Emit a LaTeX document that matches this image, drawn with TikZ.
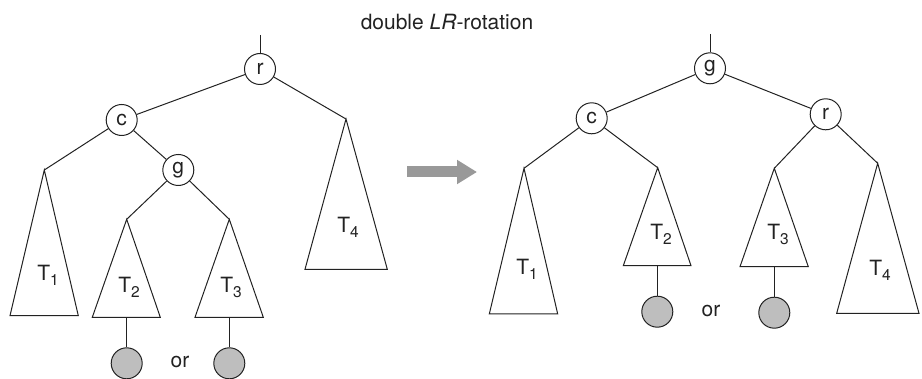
\documentclass[tikz,border=0pt]{standalone}
\usepackage{fontspec}
\setmainfont{TeX Gyre Heros}
\usetikzlibrary{arrows.meta}
\definecolor{linec}{HTML}{222222}
\definecolor{leafc}{HTML}{BEBEBE}
\definecolor{arrowc}{HTML}{999999}
\newcommand\tsub[1]{\raisebox{-0.45ex}{\fontsize{15.5}{15.5}\selectfont #1}}
\begin{document}
\begin{tikzpicture}[x=1pt,y=-1pt,
  every node/.style={font=\fontsize{21}{21}\selectfont, text=linec},
  vert/.style={circle, draw=linec, line width=1pt, minimum size=31pt, inner sep=0pt},
  leaf/.style={circle, draw=linec, fill=leafc, line width=1pt, minimum size=31pt, inner sep=0pt},
  edge/.style={draw=linec, line width=1pt},
  tri/.style={draw=linec, line width=1pt, line join=miter}]
\useasboundingbox (0,0) rectangle (922,379);
% title
\node (title) at (447,22) {double \textit{LR}-rotation};
% ---------- left tree ----------
\node[vert] (r1) at (260,69) {\raisebox{1pt}{r}};
\coordinate (r1top) at (260,35);
\node[vert] (c1) at (121.7,120) {c};
\node[vert] (g1) at (178.3,170) {g};
\coordinate (a11) at (44.3,170);
\coordinate (l11) at (10,315.7); \coordinate (r11) at (78.3,315.7);
\coordinate (a12) at (126.7,219.3);
\coordinate (l12) at (92.3,317.3); \coordinate (r12) at (160.3,317.3);
\coordinate (b12) at (126.7,317.3);
\coordinate (a13) at (229.3,219.3);
\coordinate (l13) at (195,317.3); \coordinate (r13) at (263.3,317.3);
\coordinate (b13) at (229.3,317.3);
\coordinate (a14) at (346,119);
\coordinate (l14) at (305,269.3); \coordinate (r14) at (387.3,269.3);
\draw[tri] (a11) -- (l11) -- (r11) -- cycle;
\draw[tri] (a12) -- (l12) -- (r12) -- cycle;
\draw[tri] (a13) -- (l13) -- (r13) -- cycle;
\draw[tri] (a14) -- (l14) -- (r14) -- cycle;
\node (t11) at (48,275) {T\tsub{1}};
\node (t12) at (129,287) {T\tsub{2}};
\node (t13) at (231,287) {T\tsub{3}};
\node (t14) at (348,227) {T\tsub{4}};
\node[leaf] (f12) at (126.7,363.3) {};
\node[leaf] (f13) at (229.3,363.3) {};
\node (or1) at (180,362) {or};
\draw[edge] (r1top) -- (r1);
\draw[edge] (r1) -- (c1);
\draw[edge] (r1) -- (a14);
\draw[edge] (c1) -- (a11);
\draw[edge] (c1) -- (g1);
\draw[edge] (g1) -- (a12);
\draw[edge] (g1) -- (a13);
\draw[edge] (b12) -- (f12);
\draw[edge] (b13) -- (f13);
% ---------- arrow ----------
\coordinate (arrS) at (407,172);
\coordinate (arrE) at (477,172);
\draw[arrowc, line width=11pt, -{Triangle[length=20pt,width=23pt]}] (arrS) -- (arrE);
% ---------- right tree ----------
\node[vert] (g2) at (710,68.3) {g};
\coordinate (g2top) at (710,34);
\node[vert] (c2) at (591.7,118.3) {c};
\node[vert] (r2) at (825.7,114.3) {\raisebox{1pt}{r}};
\coordinate (a21) at (524,168.3);
\coordinate (l21) at (489.3,314); \coordinate (r21) at (557.7,314);
\coordinate (a22) at (657.7,167.7);
\coordinate (l22) at (623.3,265.7); \coordinate (r22) at (691,265.7);
\coordinate (b22) at (657.3,265.7);
\coordinate (a23) at (774.3,168.3);
\coordinate (l23) at (740,266.7); \coordinate (r23) at (808.3,266.7);
\coordinate (b23) at (774.3,266.7);
\coordinate (a24) at (877.7,163.3);
\coordinate (l24) at (836.7,313.3); \coordinate (r24) at (919,313.3);
\draw[tri] (a21) -- (l21) -- (r21) -- cycle;
\draw[tri] (a22) -- (l22) -- (r22) -- cycle;
\draw[tri] (a23) -- (l23) -- (r23) -- cycle;
\draw[tri] (a24) -- (l24) -- (r24) -- cycle;
\node (t21) at (527,269) {T\tsub{1}};
\node (t22) at (661,234) {T\tsub{2}};
\node (t23) at (778,234) {T\tsub{3}};
\node (t24) at (880,270) {T\tsub{4}};
\node[leaf] (f22) at (657.3,311.7) {};
\node[leaf] (f23) at (774.3,312.7) {};
\node (or2) at (711,311) {or};
\draw[edge] (g2top) -- (g2);
\draw[edge] (g2) -- (c2);
\draw[edge] (g2) -- (r2);
\draw[edge] (c2) -- (a21);
\draw[edge] (c2) -- (a22);
\draw[edge] (r2) -- (a23);
\draw[edge] (r2) -- (a24);
\draw[edge] (b22) -- (f22);
\draw[edge] (b23) -- (f23);
\end{tikzpicture}
\end{document}
